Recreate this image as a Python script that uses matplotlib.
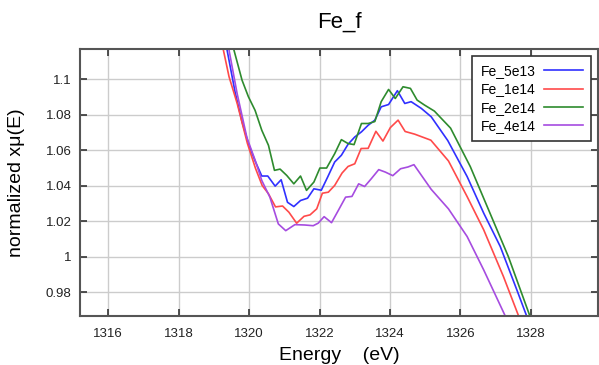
import matplotlib
matplotlib.use("Agg")
import matplotlib.pyplot as plt

plt.rcParams['font.family'] = ['Liberation Sans', 'DejaVu Sans']

# Fe_5e13
e_5e13 = [1319.0, 1319.37, 1319.6, 1319.8, 1319.99, 1320.17, 1320.36, 1320.53, 1320.74, 1320.91,
          1321.09, 1321.27, 1321.46, 1321.66, 1321.84, 1322.05, 1322.23, 1322.43, 1322.62, 1322.81,
          1323.0, 1323.19, 1323.38, 1323.57, 1323.75, 1323.96, 1324.21, 1324.42, 1324.60, 1324.89,
          1325.17, 1325.64, 1326.19, 1326.66, 1327.13, 1327.60, 1328.1]
mu_5e13 = [1.16, 1.117, 1.093, 1.076, 1.0632, 1.0540, 1.0455, 1.0455, 1.0398, 1.0434,
           1.0307, 1.0283, 1.0317, 1.0330, 1.0383, 1.0375, 1.0449, 1.0534, 1.0572, 1.0634,
           1.0675, 1.0704, 1.0741, 1.0770, 1.0845, 1.0858, 1.0936, 1.0864, 1.0874, 1.0836,
           1.0789, 1.0655, 1.0452, 1.0246, 1.0058, 0.9814, 0.955]

# Fe_1e14
e_1e14 = [1319.0, 1319.27, 1319.43, 1319.66, 1319.95, 1320.18, 1320.37, 1320.55, 1320.75, 1320.95,
          1321.13, 1321.35, 1321.56, 1321.73, 1321.92, 1322.08, 1322.25, 1322.43, 1322.64, 1322.81,
          1323.0, 1323.18, 1323.38, 1323.60, 1323.80, 1324.01, 1324.23, 1324.43, 1324.70, 1325.16,
          1325.66, 1326.19, 1326.66, 1327.22, 1327.65, 1328.1]
mu_1e14 = [1.135, 1.1165, 1.1015, 1.0865, 1.0640, 1.0499, 1.0402, 1.0355, 1.0281, 1.0286,
           1.0251, 1.0189, 1.0228, 1.0236, 1.0270, 1.0358, 1.0364, 1.0402, 1.0472, 1.0509,
           1.0524, 1.0610, 1.0611, 1.0707, 1.0652, 1.0728, 1.0770, 1.0706, 1.0691, 1.0657,
           1.0540, 1.0339, 1.0152, 0.9889, 0.9667, 0.944]

# Fe_2e14
e_2e14 = [1319.2, 1319.57, 1319.80, 1319.98, 1320.17, 1320.36, 1320.55, 1320.72, 1320.88, 1321.07,
          1321.27, 1321.46, 1321.63, 1321.84, 1322.01, 1322.20, 1322.43, 1322.62, 1322.81, 1322.98,
          1323.19, 1323.38, 1323.57, 1323.75, 1323.96, 1324.15, 1324.37, 1324.58, 1324.77, 1324.98,
          1325.26, 1325.72, 1326.28, 1326.80, 1327.36, 1327.97, 1328.3]
mu_2e14 = [1.140, 1.1165, 1.0995, 1.0902, 1.0825, 1.0713, 1.0628, 1.0487, 1.0494, 1.0458,
           1.0411, 1.0455, 1.0374, 1.0421, 1.0500, 1.0500, 1.0581, 1.0660, 1.0638, 1.0632,
           1.0751, 1.0751, 1.0762, 1.0874, 1.0943, 1.0892, 1.0958, 1.0949, 1.0883, 1.0855,
           1.0821, 1.0725, 1.0508, 1.0264, 1.0001, 0.9667, 0.950]

# Fe_4e14
e_4e14 = [1319.0, 1319.43, 1319.66, 1319.94, 1320.17, 1320.36, 1320.59, 1320.83, 1321.04, 1321.30,
          1321.58, 1321.82, 1321.96, 1322.13, 1322.34, 1322.53, 1322.74, 1322.92, 1323.11, 1323.28,
          1323.47, 1323.68, 1323.87, 1324.08, 1324.30, 1324.51, 1324.68, 1325.17, 1325.66, 1326.19,
          1326.66, 1327.27, 1327.7]
mu_4e14 = [1.165, 1.1165, 1.092, 1.0670, 1.0545, 1.0430, 1.0336, 1.0185, 1.0147, 1.0181,
           1.0179, 1.0175, 1.0189, 1.0226, 1.0192, 1.0260, 1.0336, 1.0340, 1.0411, 1.0396,
           1.0440, 1.0491, 1.0477, 1.0457, 1.0496, 1.0506, 1.0519, 1.0380, 1.0270, 1.0114,
           0.9926, 0.9667, 0.948]

labels = ["Fe_5e13", "Fe_1e14", "Fe_2e14", "Fe_4e14"]
colors = ['#3030ff', '#ff4a4a', '#2e8b2e', '#a64ce0']
xticks = [1316, 1318, 1320, 1322, 1324, 1326, 1328]
yticks = [0.98, 1.0, 1.02, 1.04, 1.06, 1.08, 1.1]
yticklabels = ['0.98', '1', '1.02', '1.04', '1.06', '1.08', '1.1']

fig = plt.figure(figsize=(5.99, 3.65), dpi=100)
ax = fig.add_axes([0.1336, 0.1342, 0.998 - 0.1336, 0.8658 - 0.1342])

series = [(e_5e13, mu_5e13), (e_1e14, mu_1e14), (e_2e14, mu_2e14), (e_4e14, mu_4e14)]
for (e, mu), lab, c in zip(series, labels, colors):
    ax.plot(e, mu, color=c, linewidth=1.2, label=lab)

ax.set_xlim(1315.2, 1329.9)
ax.set_ylim(0.9666, 1.1171)
ax.set_xticks(xticks)
ax.set_yticks(yticks)
ax.set_yticklabels(yticklabels)
ax.grid(True, color='#cccccc', linewidth=1)
ax.set_axisbelow(True)
ax.tick_params(direction='in', top=True, right=True, length=5, width=1.2,
               color='#333333', labelsize=9.5, labelcolor='#222222')
ax.tick_params(axis='x', pad=8.5)
ax.tick_params(axis='y', pad=6)
for s in ax.spines.values():
    s.set_color('#555555')
    s.set_linewidth(1.5)

ax.set_xlabel('Energy    (eV)', fontsize=14)
ax.xaxis.set_label_coords(0.5, -0.116)
ax.set_ylabel('normalized x\u03bc(E)', fontsize=14)
ax.yaxis.set_label_coords(-0.106, 0.5)
fig.text(339.5 / 599, 1 - 22 / 365, 'Fe_f', fontsize=16, ha='center', va='center')

leg = ax.legend(loc='upper right', bbox_to_anchor=(0.987, 0.974), borderaxespad=0,
                markerfirst=False, fontsize=10, handlelength=2.8, labelspacing=0.3,
                borderpad=0.6, handletextpad=0.6,
                fancybox=False, framealpha=1, edgecolor='#333333')
leg.get_frame().set_linewidth(1.2)

fig.savefig('out.png', dpi=100)
